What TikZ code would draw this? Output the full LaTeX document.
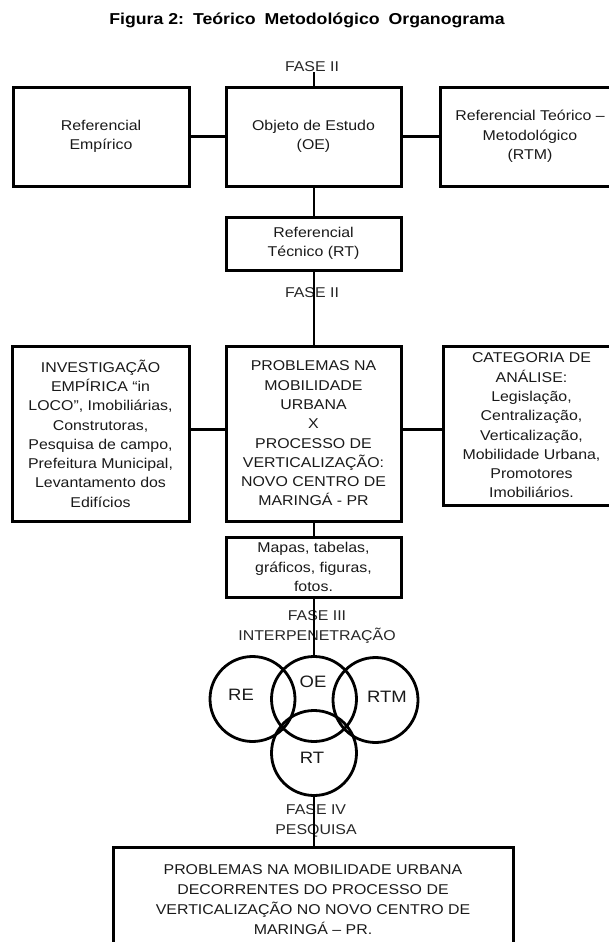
\documentclass[tikz,border=0pt]{standalone}
\usepackage{fontspec}
\setmainfont[FakeStretch=1.12]{Liberation Sans}
\usetikzlibrary{calc}

\tikzset{
  box/.style={draw, line width=3pt, inner sep=0pt, align=center, text=black!90, font=\fontsize{14.2}{19.3}\selectfont},
  fase/.style={inner sep=0pt, align=center, text=black!85, font=\fontsize{14.2}{19.3}\selectfont},
  ring/.style={draw, circle, line width=2.8pt, minimum size=85pt, inner sep=0pt},
  tag/.style={inner sep=0pt, text=black!90, font=\fontsize{16.5}{18}\selectfont},
  link/.style={line width=3.5pt},
  stem/.style={line width=2pt}
}

\begin{document}
\begin{tikzpicture}[x=1pt,y=-1pt]
  \useasboundingbox (0,0) rectangle (609,942);
  \clip (0,0) rectangle (609,942);
  %%%%% START %%%%%

  \node[inner sep=0pt, font=\bfseries\fontsize{15.8}{19}\selectfont] (title) at (307,20) {Figura 2:\hspace{9pt}Teórico\hspace{9pt}Metodológico\hspace{9pt}Organograma};

  % fase I
  \node[fase] (fase1) at (312,67) {FASE II};
  \node[box, minimum width=176pt, minimum height=99pt] (re) at (101,136.5) {Referencial\\Empírico};
  \node[box, minimum width=175pt, minimum height=99pt] (oe) at (313.5,136.5) {Objeto de Estudo\\(OE)};
  \node[box, minimum width=180pt, minimum height=99pt] (rtm) at (530,136.5) {Referencial Teórico --\\Metodológico\\(RTM)};
  \node[box, minimum width=175pt, minimum height=53pt] (rt) at (313.5,243.5) {Referencial\\Técnico (RT)};

  \draw[stem] (oe.north) -- (oe.north |- fase1.south);
  \draw[link] (re.east) -- (oe.west);
  \draw[link] (oe.east) -- (rtm.west);
  \draw[stem] (oe.south) -- (rt.north);

  % fase II
  \node[fase] (fase2) at (312,293) {FASE II};
  \node[box, minimum width=177pt, minimum height=175pt] (inv) at (100.5,433.5) {INVESTIGAÇÃO\\EMPÍRICA “in\\LOCO”, Imobiliárias,\\Construtoras,\\Pesquisa de campo,\\Prefeitura Municipal,\\Levantamento dos\\Edifícios};
  \node[box, minimum width=175pt, minimum height=175pt] (prob) at (313.5,433.5) {PROBLEMAS NA\\MOBILIDADE\\URBANA\\X\\PROCESSO DE\\VERTICALIZAÇÃO:\\NOVO CENTRO DE\\MARINGÁ - PR};
  \node[box, minimum width=177pt, minimum height=159pt] (cat) at (531.5,425.5) {CATEGORIA DE\\ANÁLISE:\\Legislação,\\Centralização,\\Verticalização,\\Mobilidade Urbana,\\Promotores\\Imobiliários.};
  \node[box, minimum width=175pt, minimum height=60pt] (mapas) at (313.5,567) {Mapas, tabelas,\\gráficos, figuras,\\fotos.};

  \draw[stem] (rt.south) -- (prob.north);
  \draw[link] ([yshift=4pt]inv.east) -- ([yshift=4pt]prob.west);
  \draw[link] ([yshift=4pt]prob.east) -- ([yshift=4pt]prob.east -| cat.west);
  \draw[stem] (prob.south) -- (mapas.north);

  % fase III
  \node[fase] (fase3) at (317,627) {FASE III\\INTERPENETRAÇÃO};
  \node[ring] (cre) at (252.5,699) {};
  \node[ring] (coe) at (314,699) {};
  \node[ring] (crtm) at (375.5,700) {};
  \node[ring] (crt) at (314,753) {};
  \node[tag] (lre) at (241,695) {RE};
  \node[tag] (loe) at (313,682) {OE};
  \node[tag] (lrtm) at (387,697) {RTM};
  \node[tag] (lrt) at (312,758) {RT};

  \draw[stem] (mapas.south) -- (mapas.south |- coe.north);

  % fase IV
  \node[fase] (fase4) at (316,821) {FASE IV\\PESQUISA};
  \node[box, minimum width=400pt, minimum height=106pt, font=\fontsize{14.2}{20}\selectfont] (fim) at (313,900) {PROBLEMAS NA MOBILIDADE URBANA\\DECORRENTES DO PROCESSO DE\\VERTICALIZAÇÃO NO NOVO CENTRO DE\\MARINGÁ -- PR.};

  \draw[stem] (crt.south) -- (crt.south |- fim.north);

  %%%%% END %%%%%
\end{tikzpicture}
\end{document}
